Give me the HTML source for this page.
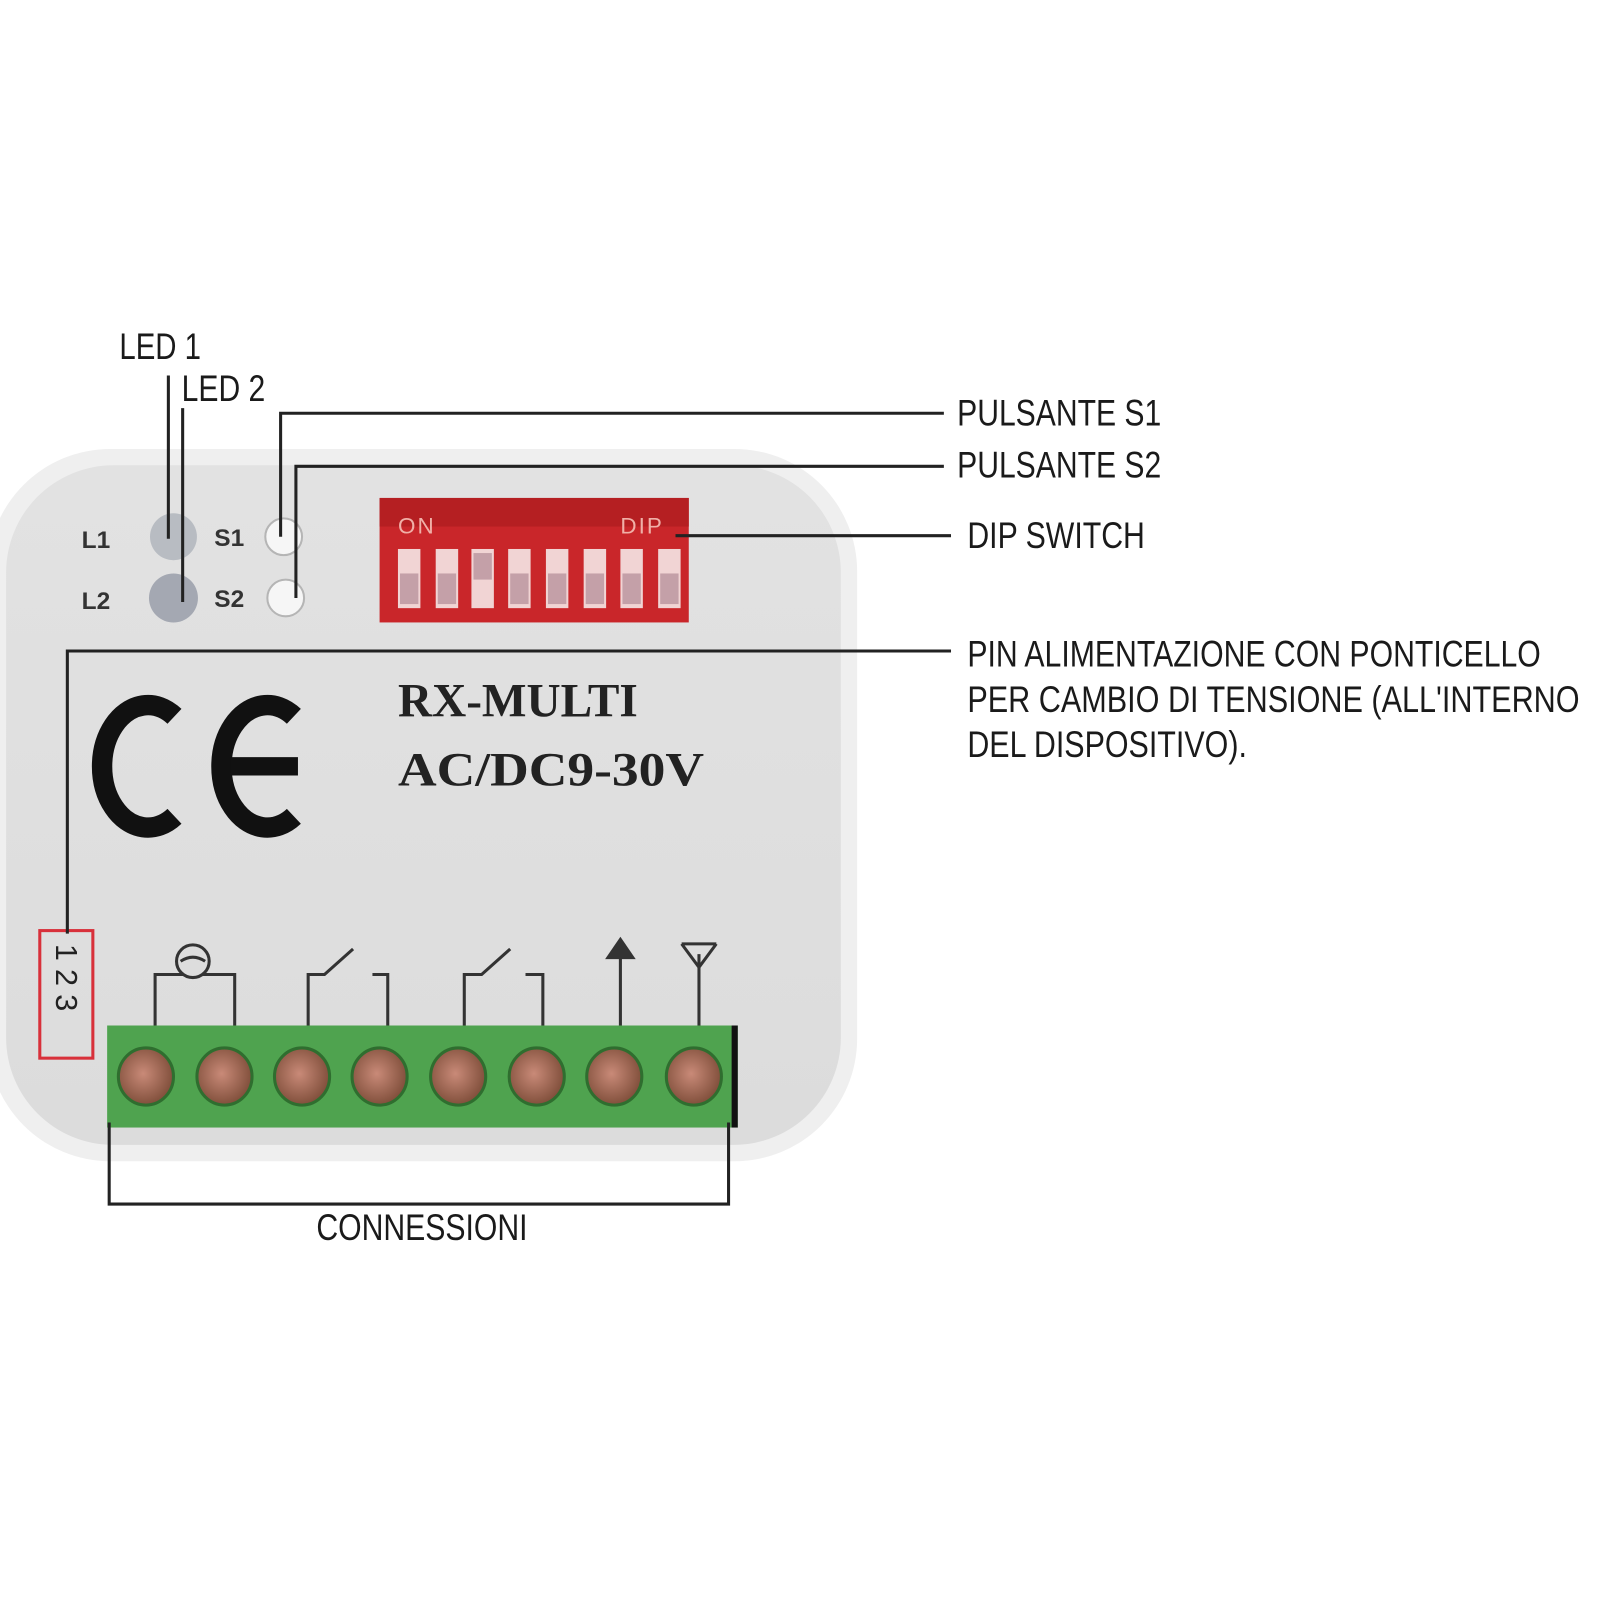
<!DOCTYPE html>
<html><head><meta charset="utf-8"><style>
html,body{margin:0;padding:0;background:#fff;width:1600px;height:1600px;overflow:hidden}
svg{display:block}
.lbl{font-family:"Liberation Sans",sans-serif;font-size:36px;fill:#1a1a1a}
</style></head><body>
<svg width="1600" height="1600" viewBox="0 0 1600 1600" xmlns="http://www.w3.org/2000/svg">
<defs>
<linearGradient id="bd" x1="0" y1="0" x2="0" y2="1"><stop offset="0" stop-color="#e2e2e2"/><stop offset="1" stop-color="#dcdcdc"/></linearGradient>
<radialGradient id="sc" cx="0.45" cy="0.45" r="0.6"><stop offset="0" stop-color="#c98a78"/><stop offset="1" stop-color="#7a4a36"/></radialGradient>
</defs>
<g transform="scale(1.0204)">
<rect x="-12" y="440" width="852" height="698" rx="120" fill="#efefef"/>
<rect x="6" y="456" width="818" height="666" rx="105" fill="url(#bd)"/>
<text x="80" y="537" font-family="Liberation Sans" font-weight="bold" font-size="24" fill="#333">L1</text>
<text x="80" y="597" font-family="Liberation Sans" font-weight="bold" font-size="24" fill="#333">L2</text>
<text x="210" y="535" font-family="Liberation Sans" font-weight="bold" font-size="24" fill="#333">S1</text>
<text x="210" y="595" font-family="Liberation Sans" font-weight="bold" font-size="24" fill="#333">S2</text>
<circle cx="170" cy="526" r="23" fill="#b8bcc2"/>
<circle cx="170" cy="586" r="24" fill="#a4a8b2"/>
<circle cx="278" cy="526" r="18" fill="#f6f6f6" stroke="#b5b5b5" stroke-width="2"/>
<circle cx="280" cy="586" r="18" fill="#f6f6f6" stroke="#b5b5b5" stroke-width="2"/>
<rect x="372" y="488" width="303" height="122" fill="#c9262a"/>
<rect x="372" y="488" width="303" height="28" fill="#b51f22"/>
<text x="390" y="523" font-family="Liberation Sans" font-size="22" fill="#f0b0a8" letter-spacing="2">ON</text>
<text x="608" y="523" font-family="Liberation Sans" font-size="22" fill="#f0b0a8" letter-spacing="2">DIP</text>
<g fill="#f1d4d4">
<rect x="390" y="538" width="22" height="58"/><rect x="427" y="538" width="22" height="58"/><rect x="462" y="538" width="22" height="58"/><rect x="498" y="538" width="22" height="58"/><rect x="535" y="538" width="22" height="58"/><rect x="572" y="538" width="22" height="58"/><rect x="608" y="538" width="22" height="58"/><rect x="645" y="538" width="22" height="58"/>
</g>
<g fill="#c4a0a8">
<rect x="392" y="562" width="18" height="30"/><rect x="429" y="562" width="18" height="30"/><rect x="464" y="542" width="18" height="26"/><rect x="500" y="562" width="18" height="30"/><rect x="537" y="562" width="18" height="30"/><rect x="574" y="562" width="18" height="30"/><rect x="610" y="562" width="18" height="30"/><rect x="647" y="562" width="18" height="30"/>
</g>
<path d="M171 702 A45 60 0 1 0 171 800" fill="none" stroke="#111" stroke-width="20"/>
<path d="M288 702 A45 60 0 1 0 288 800" fill="none" stroke="#111" stroke-width="20"/>
<rect x="226" y="742" width="66" height="18" fill="#111"/>
<text x="390" y="702" font-family="Liberation Serif" font-weight="bold" font-size="47" fill="#222" textLength="235" lengthAdjust="spacingAndGlyphs">RX-MULTI</text>
<text x="390" y="770" font-family="Liberation Serif" font-weight="bold" font-size="47" fill="#222" textLength="300" lengthAdjust="spacingAndGlyphs">AC/DC9-30V</text>
<rect x="39" y="912" width="52" height="125" fill="none" stroke="#d8303a" stroke-width="3"/>
<text transform="translate(55,925) rotate(90)" font-family="Liberation Sans" font-size="30" fill="#222" letter-spacing="8">123</text>
<g fill="none" stroke="#333" stroke-width="3">
<path d="M152 1005 V955 H230 V1005"/>
<circle cx="189" cy="942" r="16" fill="#ddd"/>
<path d="M177 942 Q189 934 201 942"/>
<path d="M302 1005 V955 H318 L346 930"/>
<path d="M365 955 H380 V1005"/>
<path d="M455 1005 V955 H472 L500 930"/>
<path d="M515 955 H532 V1005"/>
<path d="M608 1005 V935"/>
<path d="M685 1005 V935 M668 925 L685 948 L702 925 M668 925 H702"/>
</g>
<polygon points="608,918 593,940 623,940" fill="#333"/>
<rect x="105" y="1005" width="618" height="100" fill="#4fa34f"/>
<rect x="717" y="1005" width="6" height="100" fill="#111"/>
<g fill="url(#sc)" stroke="#2f6e2f" stroke-width="3">
<ellipse cx="143" cy="1055" rx="27" ry="28"/><ellipse cx="220" cy="1055" rx="27" ry="28"/><ellipse cx="296" cy="1055" rx="27" ry="28"/><ellipse cx="372" cy="1055" rx="27" ry="28"/><ellipse cx="449" cy="1055" rx="27" ry="28"/><ellipse cx="526" cy="1055" rx="27" ry="28"/><ellipse cx="602" cy="1055" rx="27" ry="28"/><ellipse cx="680" cy="1055" rx="27" ry="28"/>
</g>
<g fill="none" stroke="#222" stroke-width="3">
<path d="M165 368 V528"/>
<path d="M179 400 V590"/>
<path d="M275 526 V405 H925"/>
<path d="M290 586 V457 H925"/>
<path d="M662 525 H932"/>
<path d="M66 915 V638 H932"/>
<path d="M107 1100 V1180 H714 V1100"/>
</g>
<text class="lbl" x="117" y="352" textLength="80" lengthAdjust="spacingAndGlyphs">LED 1</text>
<text class="lbl" x="178" y="393" textLength="82" lengthAdjust="spacingAndGlyphs">LED 2</text>
<text class="lbl" x="938" y="417" textLength="200" lengthAdjust="spacingAndGlyphs">PULSANTE S1</text>
<text class="lbl" x="938" y="468" textLength="200" lengthAdjust="spacingAndGlyphs">PULSANTE S2</text>
<text class="lbl" x="948" y="537" textLength="174" lengthAdjust="spacingAndGlyphs">DIP SWITCH</text>
<text class="lbl" x="948" y="653" textLength="562" lengthAdjust="spacingAndGlyphs">PIN ALIMENTAZIONE CON PONTICELLO</text>
<text class="lbl" x="948" y="698" textLength="600" lengthAdjust="spacingAndGlyphs">PER CAMBIO DI TENSIONE  (ALL'INTERNO</text>
<text class="lbl" x="948" y="742" textLength="274" lengthAdjust="spacingAndGlyphs">DEL DISPOSITIVO).</text>
<text class="lbl" x="310" y="1215" textLength="207" lengthAdjust="spacingAndGlyphs">CONNESSIONI</text>
</g>
</svg>
</body></html>
